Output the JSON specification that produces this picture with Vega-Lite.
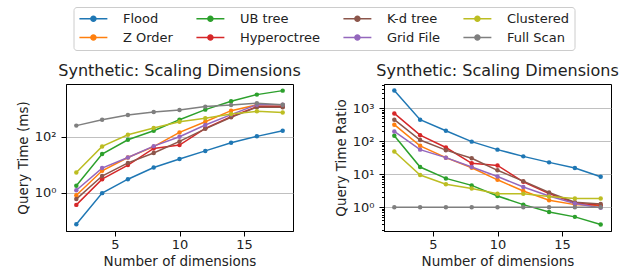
{
  "$schema": "https://vega.github.io/schema/vega-lite/v6.json",
  "padding": {"left": 15, "top": 6, "right": 5, "bottom": 5},
  "background": "white",
  "bounds": "flush",
  "config": {
    "font": "DejaVu Sans",
    "view": {"stroke": "#000", "strokeWidth": 1},
    "axis": {
      "domainColor": "#000", "tickColor": "#000", "labelColor": "#222", "titleColor": "#222",
      "labelFont": "DejaVu Sans", "titleFont": "DejaVu Sans",
      "labelFontSize": 13, "titleFontSize": 13.5, "titleFontWeight": "normal",
      "tickSize": 5, "gridColor": "#b0b0b0", "gridWidth": 0.8
    },
    "axisX": {"labelPadding": 2.5, "titlePadding": 2.5},
    "axisY": {"labelPadding": 5, "titlePadding": 4},
    "title": {"font": "DejaVu Sans", "fontSize": 16, "fontWeight": "normal", "color": "#222", "offset": 5, "frame": "group"}
  },
  "datasets": {
    "time": [
      {"method": "Flood", "d": 2, "v": 0.073}, {"method": "Flood", "d": 4, "v": 0.95}, {"method": "Flood", "d": 6, "v": 3.0}, {"method": "Flood", "d": 8, "v": 7.9}, {"method": "Flood", "d": 10, "v": 15.8}, {"method": "Flood", "d": 12, "v": 31}, {"method": "Flood", "d": 14, "v": 61}, {"method": "Flood", "d": 16, "v": 103}, {"method": "Flood", "d": 18, "v": 164},
      {"method": "Z Order", "d": 2, "v": 0.8}, {"method": "Z Order", "d": 4, "v": 6.0}, {"method": "Z Order", "d": 6, "v": 18}, {"method": "Z Order", "d": 8, "v": 44}, {"method": "Z Order", "d": 10, "v": 143}, {"method": "Z Order", "d": 12, "v": 345}, {"method": "Z Order", "d": 14, "v": 860}, {"method": "Z Order", "d": 16, "v": 1380}, {"method": "Z Order", "d": 18, "v": 1360},
      {"method": "UB tree", "d": 2, "v": 1.74}, {"method": "UB tree", "d": 4, "v": 24}, {"method": "UB tree", "d": 6, "v": 78}, {"method": "UB tree", "d": 8, "v": 164}, {"method": "UB tree", "d": 10, "v": 408}, {"method": "UB tree", "d": 12, "v": 935}, {"method": "UB tree", "d": 14, "v": 1860}, {"method": "UB tree", "d": 16, "v": 3230}, {"method": "UB tree", "d": 18, "v": 4490},
      {"method": "Hyperoctree", "d": 2, "v": 0.36}, {"method": "Hyperoctree", "d": 4, "v": 3.0}, {"method": "Hyperoctree", "d": 6, "v": 9.6}, {"method": "Hyperoctree", "d": 8, "v": 38}, {"method": "Hyperoctree", "d": 10, "v": 50}, {"method": "Hyperoctree", "d": 12, "v": 200}, {"method": "Hyperoctree", "d": 14, "v": 520}, {"method": "Hyperoctree", "d": 16, "v": 1200}, {"method": "Hyperoctree", "d": 18, "v": 1180},
      {"method": "K-d tree", "d": 2, "v": 0.58}, {"method": "K-d tree", "d": 4, "v": 3.9}, {"method": "K-d tree", "d": 6, "v": 11.5}, {"method": "K-d tree", "d": 8, "v": 26}, {"method": "K-d tree", "d": 10, "v": 68}, {"method": "K-d tree", "d": 12, "v": 192}, {"method": "K-d tree", "d": 14, "v": 495}, {"method": "K-d tree", "d": 16, "v": 1150}, {"method": "K-d tree", "d": 18, "v": 1130},
      {"method": "Grid File", "d": 2, "v": 1.2}, {"method": "Grid File", "d": 4, "v": 7.5}, {"method": "Grid File", "d": 6, "v": 18}, {"method": "Grid File", "d": 8, "v": 46}, {"method": "Grid File", "d": 10, "v": 100}, {"method": "Grid File", "d": 12, "v": 262}, {"method": "Grid File", "d": 14, "v": 620}, {"method": "Grid File", "d": 16, "v": 1410}, {"method": "Grid File", "d": 18, "v": 1400},
      {"method": "Clustered", "d": 2, "v": 5.2}, {"method": "Clustered", "d": 4, "v": 45}, {"method": "Clustered", "d": 6, "v": 118}, {"method": "Clustered", "d": 8, "v": 205}, {"method": "Clustered", "d": 10, "v": 345}, {"method": "Clustered", "d": 12, "v": 457}, {"method": "Clustered", "d": 14, "v": 650}, {"method": "Clustered", "d": 16, "v": 815}, {"method": "Clustered", "d": 18, "v": 740},
      {"method": "Full Scan", "d": 2, "v": 250}, {"method": "Full Scan", "d": 4, "v": 408}, {"method": "Full Scan", "d": 6, "v": 600}, {"method": "Full Scan", "d": 8, "v": 770}, {"method": "Full Scan", "d": 10, "v": 910}, {"method": "Full Scan", "d": 12, "v": 1200}, {"method": "Full Scan", "d": 14, "v": 1380}, {"method": "Full Scan", "d": 16, "v": 1580}, {"method": "Full Scan", "d": 18, "v": 1410}
    ],
    "ratio": [
      {"method": "Flood", "d": 2, "v": 3470}, {"method": "Flood", "d": 4, "v": 455}, {"method": "Flood", "d": 6, "v": 209}, {"method": "Flood", "d": 8, "v": 98}, {"method": "Flood", "d": 10, "v": 56}, {"method": "Flood", "d": 12, "v": 35}, {"method": "Flood", "d": 14, "v": 23}, {"method": "Flood", "d": 16, "v": 15.5}, {"method": "Flood", "d": 18, "v": 8.4},
      {"method": "Z Order", "d": 2, "v": 320}, {"method": "Z Order", "d": 4, "v": 73}, {"method": "Z Order", "d": 6, "v": 32}, {"method": "Z Order", "d": 8, "v": 15.8}, {"method": "Z Order", "d": 10, "v": 6.8}, {"method": "Z Order", "d": 12, "v": 3.1}, {"method": "Z Order", "d": 14, "v": 1.63}, {"method": "Z Order", "d": 16, "v": 1.2}, {"method": "Z Order", "d": 18, "v": 1.1},
      {"method": "UB tree", "d": 2, "v": 147}, {"method": "UB tree", "d": 4, "v": 16.6}, {"method": "UB tree", "d": 6, "v": 7.5}, {"method": "UB tree", "d": 8, "v": 4.6}, {"method": "UB tree", "d": 10, "v": 2.2}, {"method": "UB tree", "d": 12, "v": 1.2}, {"method": "UB tree", "d": 14, "v": 0.72}, {"method": "UB tree", "d": 16, "v": 0.51}, {"method": "UB tree", "d": 18, "v": 0.3},
      {"method": "Hyperoctree", "d": 2, "v": 705}, {"method": "Hyperoctree", "d": 4, "v": 154}, {"method": "Hyperoctree", "d": 6, "v": 65}, {"method": "Hyperoctree", "d": 8, "v": 21.5}, {"method": "Hyperoctree", "d": 10, "v": 18.6}, {"method": "Hyperoctree", "d": 12, "v": 5.9}, {"method": "Hyperoctree", "d": 14, "v": 2.6}, {"method": "Hyperoctree", "d": 16, "v": 1.35}, {"method": "Hyperoctree", "d": 18, "v": 1.15},
      {"method": "K-d tree", "d": 2, "v": 455}, {"method": "K-d tree", "d": 4, "v": 110}, {"method": "K-d tree", "d": 6, "v": 54}, {"method": "K-d tree", "d": 8, "v": 30.6}, {"method": "K-d tree", "d": 10, "v": 13.2}, {"method": "K-d tree", "d": 12, "v": 6.2}, {"method": "K-d tree", "d": 14, "v": 2.8}, {"method": "K-d tree", "d": 16, "v": 1.42}, {"method": "K-d tree", "d": 18, "v": 1.26},
      {"method": "Grid File", "d": 2, "v": 200}, {"method": "Grid File", "d": 4, "v": 56}, {"method": "Grid File", "d": 6, "v": 32}, {"method": "Grid File", "d": 8, "v": 16.6}, {"method": "Grid File", "d": 10, "v": 8.6}, {"method": "Grid File", "d": 12, "v": 4.1}, {"method": "Grid File", "d": 14, "v": 2.2}, {"method": "Grid File", "d": 16, "v": 1.3}, {"method": "Grid File", "d": 18, "v": 0.96},
      {"method": "Clustered", "d": 2, "v": 49}, {"method": "Clustered", "d": 4, "v": 9.5}, {"method": "Clustered", "d": 6, "v": 5.0}, {"method": "Clustered", "d": 8, "v": 3.7}, {"method": "Clustered", "d": 10, "v": 2.55}, {"method": "Clustered", "d": 12, "v": 2.55}, {"method": "Clustered", "d": 14, "v": 2.1}, {"method": "Clustered", "d": 16, "v": 1.84}, {"method": "Clustered", "d": 18, "v": 1.84},
      {"method": "Full Scan", "d": 2, "v": 1}, {"method": "Full Scan", "d": 4, "v": 1}, {"method": "Full Scan", "d": 6, "v": 1}, {"method": "Full Scan", "d": 8, "v": 1}, {"method": "Full Scan", "d": 10, "v": 1}, {"method": "Full Scan", "d": 12, "v": 1}, {"method": "Full Scan", "d": 14, "v": 1}, {"method": "Full Scan", "d": 16, "v": 1}, {"method": "Full Scan", "d": 18, "v": 1}
    ]
  },
  "spacing": 91,
  "hconcat": [
    {
      "width": 227, "height": 147,
      "title": "Synthetic: Scaling Dimensions",
      "data": {"name": "time"},
      "encoding": {
        "x": {"field": "d", "type": "quantitative", "scale": {"domain": [1.2, 18.8], "nice": false, "zero": false}, "axis": {"values": [5, 10, 15], "title": "Number of dimensions", "grid": false}},
        "y": {"field": "v", "type": "quantitative", "scale": {"type": "log", "domain": [0.0417, 7760], "nice": false}, "axis": {"values": [1, 100], "title": "Query Time (ms)", "grid": true, "labelExpr": "datum.value == 1 ? '10⁰' : datum.value == 100 ? '10²' : ''"}},
        "color": {
          "field": "method", "type": "nominal",
          "scale": {"domain": ["Flood", "UB tree", "K-d tree", "Clustered", "Z Order", "Hyperoctree", "Grid File", "Full Scan"], "range": ["#1f77b4", "#2ca02c", "#8c564b", "#bcbd22", "#ff7f0e", "#d62728", "#9467bd", "#7f7f7f"]},
          "legend": {
            "orient": "none", "legendX": 7.5, "legendY": -77, "columns": 4, "direction": "horizontal", "title": null,
            "symbolType": "M-2.5,0H2.5M0.45,0A0.45,0.45 0 1 1 -0.45,0A0.45,0.45 0 1 1 0.45,0Z",
            "symbolSize": 125, "symbolOffset": 8.4, "symbolStrokeWidth": 1.5, "labelFontSize": 13, "labelFont": "DejaVu Sans", "labelColor": "#222",
            "labelOffset": 23, "columnPadding": 19, "rowPadding": 5, "strokeColor": "#cccccc", "cornerRadius": 3, "padding": 5,
            "encode": {"symbols": {"update": {"fill": {"scale": "color", "field": "value"}, "stroke": {"scale": "color", "field": "value"}, "opacity": {"value": 1}}}}
          }
        }
      },
      "layer": [
        {"mark": {"type": "line", "strokeWidth": 1.5}},
        {"mark": {"type": "point", "filled": true, "size": 20, "opacity": 1}}
      ]
    },
    {
      "width": 227, "height": 147,
      "title": "Synthetic: Scaling Dimensions",
      "data": {"name": "ratio"},
      "encoding": {
        "x": {"field": "d", "type": "quantitative", "scale": {"domain": [1.2, 18.8], "nice": false, "zero": false}, "axis": {"values": [5, 10, 15], "title": "Number of dimensions", "grid": false}},
        "y": {"field": "v", "type": "quantitative", "scale": {"type": "log", "domain": [0.19, 5500], "nice": false},
          "axis": {
            "values": [0.2, 0.3, 0.4, 0.5, 0.6, 0.7, 0.8, 0.9, 1, 2, 3, 4, 5, 6, 7, 8, 9, 10, 20, 30, 40, 50, 60, 70, 80, 90, 100, 200, 300, 400, 500, 600, 700, 800, 900, 1000, 2000, 3000, 4000, 5000],
            "title": "Query Time Ratio", "grid": true,
            "labelExpr": "datum.value == 1 ? '10⁰' : datum.value == 10 ? '10¹' : datum.value == 100 ? '10²' : datum.value == 1000 ? '10³' : ''",
            "labelFontSize": {"condition": {"test": "datum.value == 1 || datum.value == 10 || datum.value == 100 || datum.value == 1000", "value": 13}, "value": 0},
            "gridOpacity": {"condition": {"test": "datum.value == 1 || datum.value == 10 || datum.value == 100 || datum.value == 1000", "value": 1}, "value": 0},
            "tickSize": {"condition": {"test": "datum.value == 1 || datum.value == 10 || datum.value == 100 || datum.value == 1000", "value": 5}, "value": 2.5},
            "labelOverlap": false
          }
        },
        "color": {"field": "method", "type": "nominal"}
      },
      "layer": [
        {"mark": {"type": "line", "strokeWidth": 1.5}},
        {"mark": {"type": "point", "filled": true, "size": 20, "opacity": 1}}
      ]
    }
  ]
}
